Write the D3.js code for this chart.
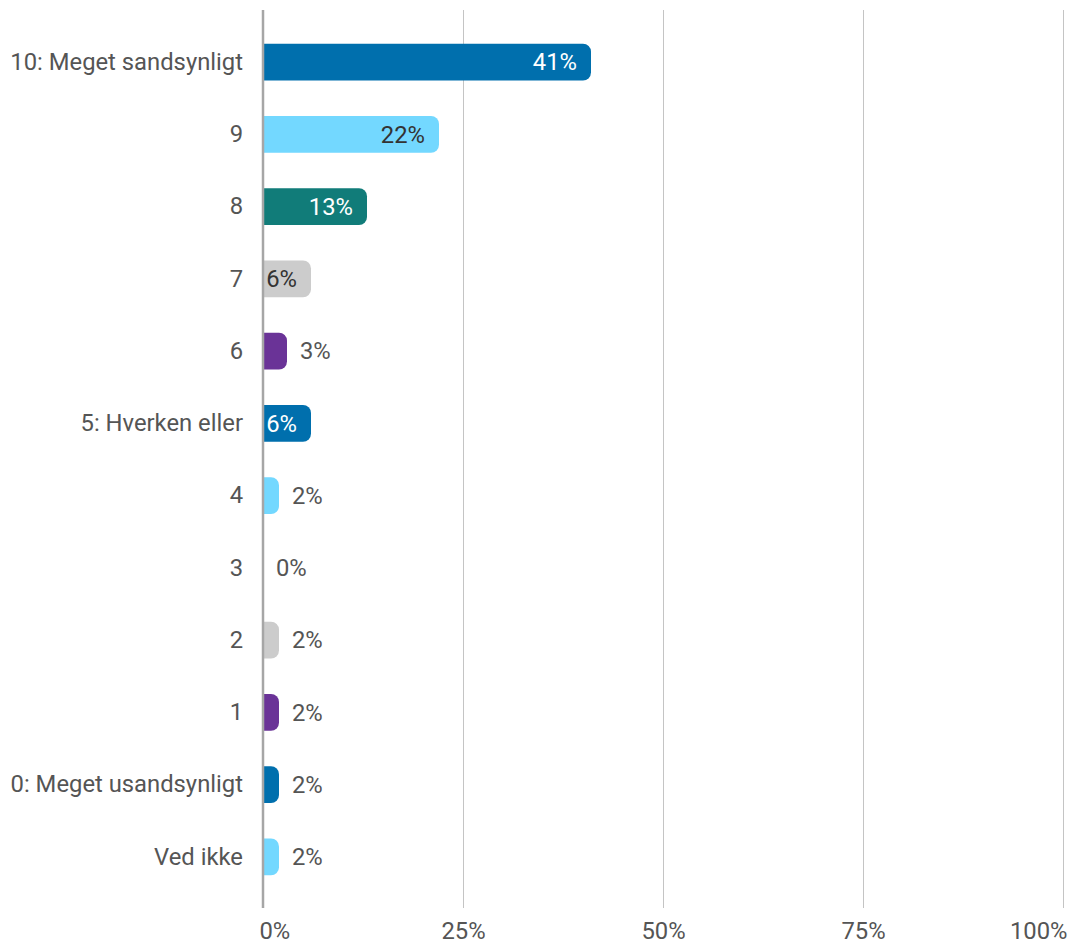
<!DOCTYPE html>
<html>
<head>
<meta charset="utf-8">
<script src="https://cdn.jsdelivr.net/npm/d3@7"></script>
<style>
  html, body { margin: 0; padding: 0; background: #fff; }
  svg { display: block; font-family: Roboto, "Noto Sans", sans-serif; }
</style>
</head>
<body>
<svg id="chart" width="1070" height="946"></svg>
<script>
// Survey answers on a 0–10 likelihood scale
const categories = ["10: Meget sandsynligt", "9", "8", "7", "6", "5: Hverken eller",
  "4", "3", "2", "1", "0: Meget usandsynligt", "Ved ikke"];
const values = [41, 22, 13, 6, 3, 6, 2, 0, 2, 2, 2, 2];
const barColors = ["#006fad", "#73d8ff", "#117c79", "#cccccc", "#6a3397",
  "#006fad", "#73d8ff", "#117c79", "#cccccc", "#6a3397", "#006fad", "#73d8ff"];
const tickValues = [0, 25, 50, 75, 100];

const darkFills = new Set(["#006fad", "#117c79", "#6a3397"]);

const svg = d3.select("#chart");
const x = d3.scaleLinear().domain([0, 100]).range([263, 1063]);
const y = d3.scaleBand().domain(categories).range([26, 893]).paddingInner(0.49).paddingOuter(0.245);

const gridTop = 10, gridBottom = 908;
const fontSize = 23.8;

// vertical grid lines
svg.append("g").selectAll("line").data(tickValues.slice(1)).join("line")
  .attr("x1", d => x(d) + 0.5).attr("x2", d => x(d) + 0.5)
  .attr("y1", gridTop).attr("y2", gridBottom)
  .attr("stroke", "#c4c4c4").attr("stroke-width", 1);

// bars with rounded right end
const r = 8;
function barPath(x0, x1, y0, h) {
  const w = x1 - x0;
  if (w <= 0) return "";
  const rr = Math.min(r, w, h / 2);
  return `M${x0},${y0}H${x1 - rr}A${rr},${rr} 0 0 1 ${x1},${y0 + rr}` +
         `V${y0 + h - rr}A${rr},${rr} 0 0 1 ${x1 - rr},${y0 + h}H${x0}Z`;
}
svg.append("g").selectAll("path").data(values).join("path")
  .attr("d", (d, i) => barPath(x(0), x(d), y(categories[i]), y.bandwidth()))
  .attr("fill", (d, i) => barColors[i]);

// axis line at zero
svg.append("line")
  .attr("x1", x(0)).attr("x2", x(0))
  .attr("y1", gridTop).attr("y2", gridBottom)
  .attr("stroke", "#a6a6a6").attr("stroke-width", 2.5);

// value labels: inside the bar end when they fit, otherwise just past it
const labels = svg.append("g").selectAll("text").data(values).join("text")
  .attr("y", (d, i) => y(categories[i]) + y.bandwidth() / 2)
  .attr("dy", "0.35em")
  .attr("font-size", fontSize)
  .text(d => d + "%");
labels.each(function(d, i) {
  const t = d3.select(this);
  const w = this.getComputedTextLength();
  const barW = x(d) - x(0);
  if (barW >= w) {
    t.attr("x", Math.max(x(d) - 14, x(0) + 2 + w)).attr("text-anchor", "end")
     .attr("fill", darkFills.has(barColors[i]) ? "#ffffff" : "#333333");
  } else {
    t.attr("x", x(d) + 13).attr("text-anchor", "start").attr("fill", "#555555");
  }
});

// category labels
const yAxis = d3.axisLeft(y).tickSize(0).tickPadding(0);
svg.append("g").attr("transform", "translate(243,0)").call(yAxis)
  .call(g => g.select(".domain").remove())
  .selectAll("text")
  .attr("font-size", fontSize).attr("font-family", "Roboto, sans-serif")
  .attr("fill", "#555555");

// percentage axis labels; the outer two are kept inside the page
const xAxis = d3.axisBottom(x).tickValues(tickValues).tickFormat(d => d + "%").tickSize(0).tickPadding(0);
svg.append("g").attr("transform", "translate(0,921)").call(xAxis)
  .call(g => g.select(".domain").remove())
  .selectAll("text")
  .attr("font-size", fontSize).attr("font-family", "Roboto, sans-serif")
  .attr("fill", "#555555").attr("dy", "0.75em")
  .each(function(d) {
    if (d === tickValues[0]) d3.select(this).attr("text-anchor", "start").attr("x", -4);
    if (d === tickValues[tickValues.length - 1]) d3.select(this).attr("text-anchor", "end").attr("x", 4);
  });
</script>
</body>
</html>
